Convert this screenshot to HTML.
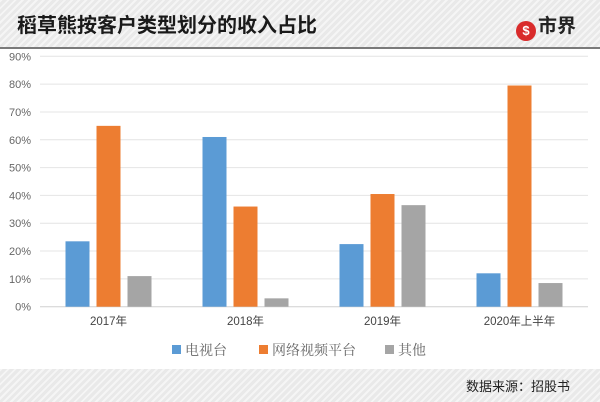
<!DOCTYPE html>
<html><head><meta charset="utf-8">
<style>
body{margin:0;width:600px;height:402px;overflow:hidden;background:#fff;font-family:"Liberation Sans","Noto Sans CJK SC",sans-serif;}
.stripe{background-color:#e9e9e9;background-image:repeating-linear-gradient(135deg,rgba(255,255,255,0.55) 0 2px,rgba(0,0,0,0) 2px 5px);}
#header{position:absolute;left:0;top:0;width:600px;height:47px;border-bottom:2px solid #7a7a7a;}
#title{position:absolute;left:17px;top:9px;font-size:20px;font-weight:bold;color:#1a1a1a;}
#logo{position:absolute;left:516px;top:11px;font-size:19px;font-weight:bold;color:#222;}
#footer{position:absolute;left:0;top:369px;width:600px;height:33px;}
#source{position:absolute;right:30px;top:7px;font-size:13px;color:#222;}
</style></head><body>
<div id="header" class="stripe">
<div id="title">稻草熊按客户类型划分的收入占比</div>
<div id="logo"><span style="display:inline-block;width:20px;height:20px;border-radius:50%;background:#d92b2b;color:#fff;font-size:13px;text-align:center;line-height:20px;vertical-align:-3px;margin-right:2px">$</span>市界</div>
</div>
<svg id="chart" width="600" height="402" style="position:absolute;left:0;top:0"></svg>
<div id="footer" class="stripe">
<div id="source">数据来源：招股书</div>
</div>
<script>
const categories=["2017年","2018年","2019年","2020年上半年"];
const seriesNames=["电视台","网络视频平台","其他"];
const tvValues=[23.5,61,22.5,12];
const onlineValues=[65,36,40.5,79.5];
const otherValues=[11,3,36.5,8.5];
const yTicks=[0,10,20,30,40,50,60,70,80,90];
const colors=["#5b9bd5","#ed7d31","#a5a5a5"];
const svg=document.getElementById('chart');
const NS="http://www.w3.org/2000/svg";
const x0=40,x1=588,yTop=56.3,yBot=306.7;
const y=v=>yBot-(v/90)*(yBot-yTop);
const gw=(x1-x0)/categories.length;
const bw=24,gap=7;
function mk(t,a){const e=document.createElementNS(NS,t);for(const k in a)e.setAttribute(k,a[k]);svg.appendChild(e);return e;}
yTicks.forEach(t=>{
 const l=mk('line',{x1:x0,x2:x1,y1:y(t),y2:y(t),stroke:t===0?'#d0d0d0':'#e4e4e4','stroke-width':1});
 
 
 const tx=mk('text',{x:31,y:y(t)+4,'text-anchor':'end','font-size':11,fill:'#666','font-family':'Liberation Sans, sans-serif'});
 tx.textContent=t+'%';
 
 
});
const all=[tvValues,onlineValues,otherValues];
categories.forEach((c,i)=>{
 const cx=x0+gw*(i+0.5);
 all.forEach((s,j)=>{
  const bx=cx+(j-1)*(bw+gap)-bw/2;
  const r=mk('rect',{x:bx,y:y(s[i]),width:bw,height:yBot-y(s[i]),fill:colors[j]});
  
  
 });
 const t=mk('text',{x:cx,y:325,'text-anchor':'middle','font-size':11.5,fill:'#444','font-family':'Liberation Sans, Noto Sans CJK SC, sans-serif'});
 t.textContent=c;
 
 
});
const lx=[172,259,385];
seriesNames.forEach((n,j)=>{
 const r=mk('rect',{x:lx[j],y:345,width:9,height:9,fill:colors[j]});
 
 
 const t=mk('text',{x:lx[j]+13,y:355,'font-size':14,fill:'#666','font-family':'Noto Serif CJK SC, serif'});
 t.textContent=n;
 
 
});
</script>
</body></html>
